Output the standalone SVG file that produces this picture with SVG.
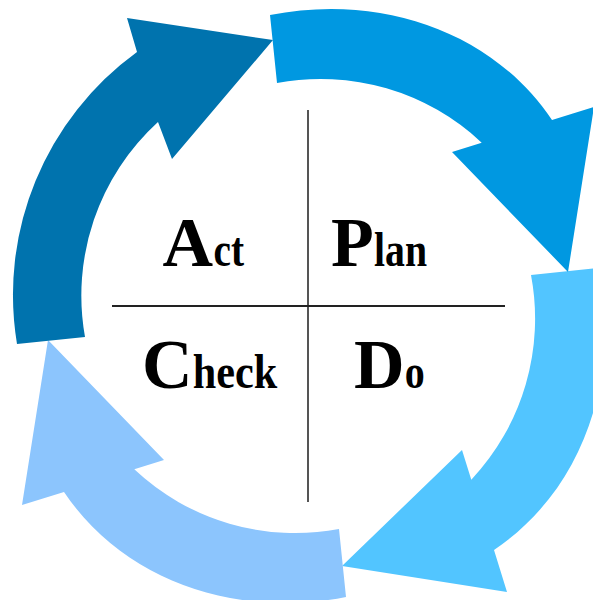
<svg xmlns="http://www.w3.org/2000/svg" width="593" height="600" viewBox="0 0 593 600">
<style>
.lbl{font-family:"Liberation Serif","Times New Roman",serif;font-weight:bold;fill:#000}
.big{font-size:70px}
.sm{font-size:48px}
.ax{stroke-width:2;fill:none}
</style>
<defs>
<path id="arrowQ" d="M270,15 C377.6,-6.3 490.6,29 552,120 L594,107 L568,272 L452,152 L481.7,142.7 A235,235 0 0 0 277,83 Z"/>
</defs>
<rect width="593" height="600" fill="#fff"/>
<g id="connectors">
<g id="do-arrow"><use href="#arrowQ" fill="#52C5FF" transform="rotate(90 308 306)"/></g>
<g id="check-arrow"><use href="#arrowQ" fill="#8CC5FD" transform="rotate(180 308 306)"/></g>
<g id="act-arrow"><path fill="#0073AE" d="M17,344 A300,300 0 0 1 137,52 L127,18 L273,40 L172,159 L158,122 A235,235 0 0 0 85,337 Z"/></g>
<g id="plan-arrow"><use href="#arrowQ" fill="#0098E1"/></g>
<line class="ax" x1="308" y1="110" x2="308" y2="502" stroke="#555"/>
<line class="ax" x1="112" y1="306" x2="505" y2="306" stroke="#222"/>
</g>
<g id="act">
<text class="lbl big" x="162.5" y="266">A</text>
<text class="lbl sm" x="213.5" y="266" textLength="30.5" lengthAdjust="spacingAndGlyphs">ct</text>
</g>
<g id="plan">
<text class="lbl big" x="331" y="266">P</text>
<text class="lbl sm" x="374" y="266" textLength="53" lengthAdjust="spacingAndGlyphs">lan</text>
</g>
<g id="check">
<text class="lbl big" x="142" y="388">C</text>
<text class="lbl sm" x="192.8" y="388" textLength="84.5" lengthAdjust="spacingAndGlyphs">heck</text>
</g>
<g id="do">
<text class="lbl big" x="354" y="388">D</text>
<text class="lbl sm" x="404.8" y="388" textLength="20" lengthAdjust="spacingAndGlyphs">o</text>
</g>
</svg>
